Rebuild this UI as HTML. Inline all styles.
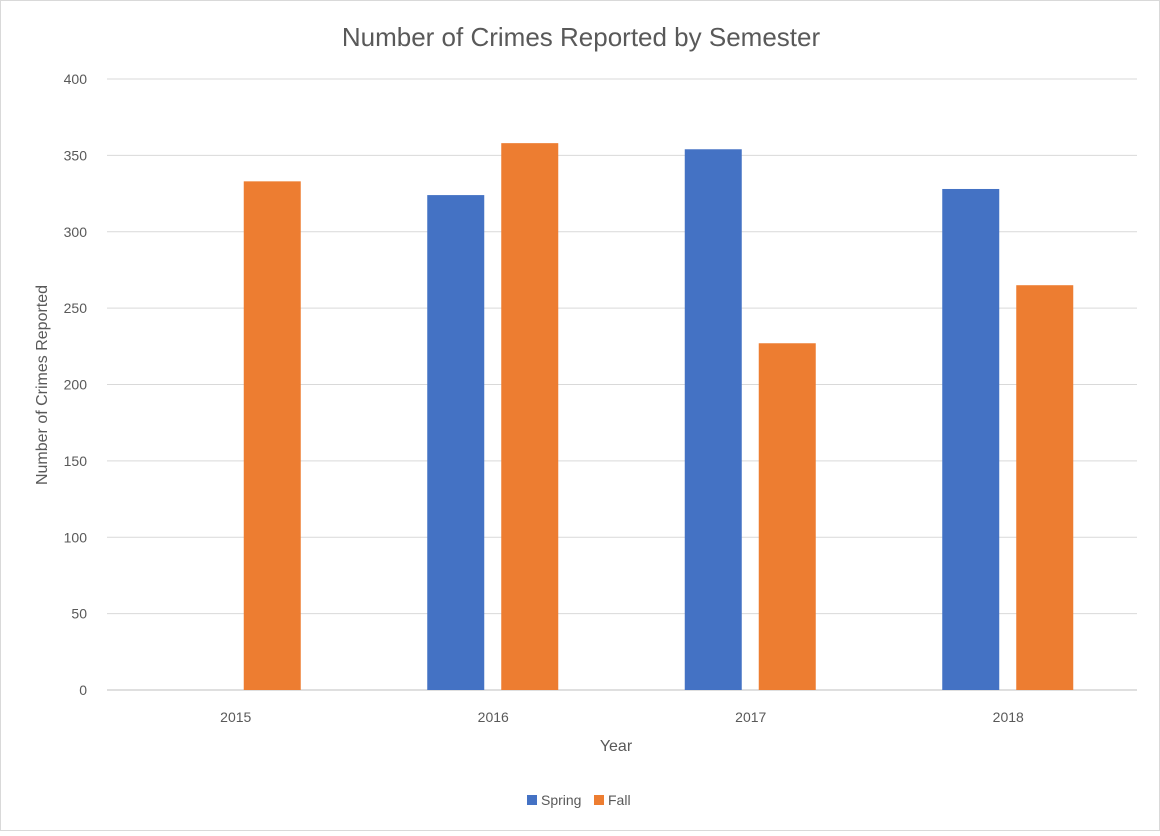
<!DOCTYPE html>
<html><head><meta charset="utf-8"><style>
body{margin:0;background:#fff;font-family:"Liberation Sans",sans-serif;}
svg text{font-family:"Liberation Sans",sans-serif;fill:#595959;}
</style></head><body>
<svg id="chart" width="1160" height="831">
<rect x="0.5" y="0.5" width="1159" height="830" fill="#fff" stroke="#d9d9d9"/>
<text x="581" y="46" font-size="26" text-anchor="middle">Number of Crimes Reported by Semester</text>
<g id="grid"></g><g id="bars"></g><g id="xlabels"></g>
<text x="616" y="751" font-size="16" text-anchor="middle">Year</text>
<text transform="translate(47,385) rotate(-90)" font-size="16" text-anchor="middle">Number of Crimes Reported</text>
<g>
<rect x="527" y="795" width="10" height="10" fill="#4472c4"/>
<text x="541" y="805" font-size="14">Spring</text>
<rect x="594" y="795" width="10" height="10" fill="#ed7d31"/>
<text x="608" y="805" font-size="14">Fall</text>
</g>
</svg>
<script>
const categories=["2015","2016","2017","2018"];
const spring=[null,324,354,328];
const fall=[333,358,227,265];
const yTicks=[0,50,100,150,200,250,300,350,400];
const NS="http://www.w3.org/2000/svg";
const x0=107,x1=1137,y0=690,y1=79,yMax=400;
const y=v=>y0-(v/yMax)*(y0-y1);
const band=(x1-x0)/categories.length;
const xc=i=>x0+band*(i+0.5);
function mk(t,a,p){const e=document.createElementNS(NS,t);for(const k in a)e.setAttribute(k,a[k]);p.appendChild(e);return e;}
const g=document.getElementById('grid');
yTicks.forEach(v=>{
 const l=mk('line',{x1:x0,x2:x1,y1:y(v),y2:y(v),stroke:v===0?'#bfbfbf':'#d9d9d9','stroke-width':1},g);
 
 
 const t=mk('text',{x:87,y:y(v)+5,'font-size':14,'text-anchor':'end'},g);
 t.textContent=v;
 
 
});
const b=document.getElementById('bars');
const bw=57,off=37;
categories.forEach((c,i)=>{
 if(spring[i]!=null){
  const r=mk('rect',{x:xc(i)-off-bw/2-0.5,y:y(spring[i]),width:bw,height:y0-y(spring[i]),fill:'#4472c4'},b);
  
  
 }
 if(fall[i]!=null){
  const r=mk('rect',{x:xc(i)+off-bw/2-0.5,y:y(fall[i]),width:bw,height:y0-y(fall[i]),fill:'#ed7d31'},b);
  
  
 }
 const t=mk('text',{x:xc(i),y:722,'font-size':14,'text-anchor':'middle'},document.getElementById('xlabels'));
 t.textContent=c;
 
 
});
</script>
</body></html>
